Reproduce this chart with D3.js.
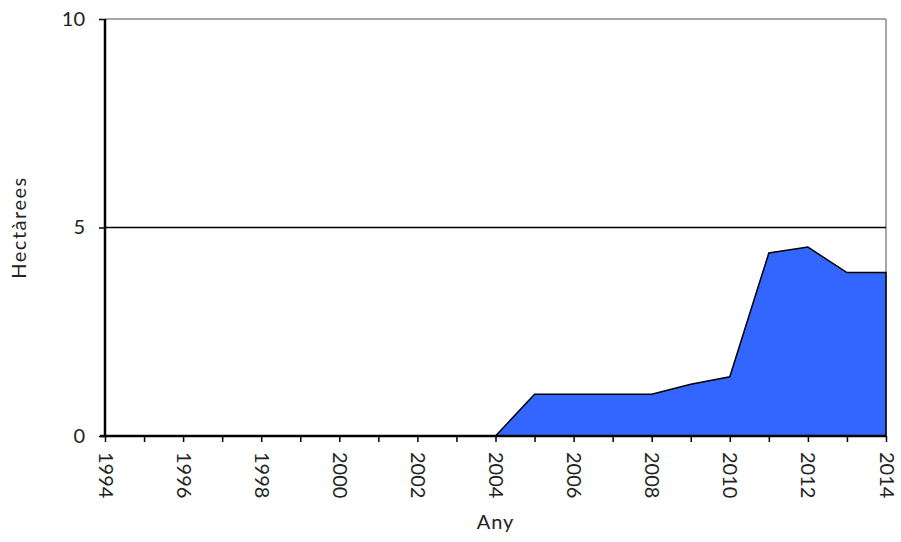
<!DOCTYPE html>
<html><head><meta charset="utf-8">
<script src="https://cdn.jsdelivr.net/npm/d3@7"></script>
<style>body{margin:0;background:#fff}svg{display:block}text{font-family:"Lato","DejaVu Sans",sans-serif;fill:#222}</style>
</head><body>
<script>
const years = [2004,2005,2006,2007,2008,2009,2010,2011,2012,2013,2014];
const values = [0,1.0,1.0,1.0,1.0,1.24,1.42,4.39,4.53,3.92,3.92];
const xTickLabels = [1994,1996,1998,2000,2002,2004,2006,2008,2010,2012,2014];
const yTicks = [0,5,10];
const W=901,H=542, L=105,R=886,T=19,B=436;
const FONT='"Lato","DejaVu Sans",sans-serif';
const svg=d3.select("body").append("svg").attr("width",W).attr("height",H);
const x=d3.scaleLinear().domain([1994,2014]).range([L,R]);
const y=d3.scaleLinear().domain([0,10]).range([B,T]);
svg.append("line").attr("x1",L).attr("x2",R).attr("y1",T).attr("y2",T).attr("stroke","#888").attr("stroke-width",1.5);
svg.append("line").attr("x1",R).attr("x2",R).attr("y1",T).attr("y2",B).attr("stroke","#888").attr("stroke-width",1.5);
svg.append("line").attr("x1",L).attr("x2",R).attr("y1",y(5)).attr("y2",y(5)).attr("stroke","#000").attr("stroke-width",1.5);
const area=d3.area().x((d,i)=>x(years[i])).y0(y(0)).y1(d=>y(d));
svg.append("path").datum(values).attr("d",area).attr("fill","#3366ff").attr("stroke","#000").attr("stroke-width",1.5).attr("stroke-linejoin","miter");
const xAxis=d3.axisBottom(x).tickValues(d3.range(1994,2015)).tickSize(6).tickFormat(d=>xTickLabels.includes(d)?d:"");
const gx=svg.append("g").attr("transform",`translate(0,${B})`).call(xAxis);
gx.select(".domain").attr("stroke","#000").attr("stroke-width",2.5).attr("d",`M${L-5},0H${R}`);
gx.selectAll(".tick line").attr("stroke","#000").attr("stroke-width",1.5);
gx.selectAll(".tick text").attr("font-size",20).attr("font-family",FONT).attr("fill","#222")
  .attr("transform","rotate(90)").attr("text-anchor","start").attr("x",16).attr("y",0).attr("dy","0.35em");
const yAxis=d3.axisLeft(y).tickValues(yTicks).tickSize(6).tickFormat(d3.format("d"));
const gy=svg.append("g").attr("transform",`translate(${L},0)`).call(yAxis);
gy.select(".domain").attr("stroke","#000").attr("stroke-width",2.5).attr("d",`M0,${T}V${B}`);
gy.selectAll(".tick line").attr("stroke","#000").attr("stroke-width",1.5);
gy.selectAll(".tick text").attr("font-size",20).attr("font-family",FONT).attr("fill","#222").attr("x",-20);
svg.append("text").attr("x",(L+R)/2).attr("y",529).attr("text-anchor","middle").attr("font-size",20).attr("letter-spacing",1).text("Any");
svg.append("text").attr("transform",`translate(26,${(T+B)/2}) rotate(-90)`).attr("text-anchor","middle").attr("font-size",20).attr("letter-spacing",1.5).text("Hectàrees");
</script>
</body></html>
